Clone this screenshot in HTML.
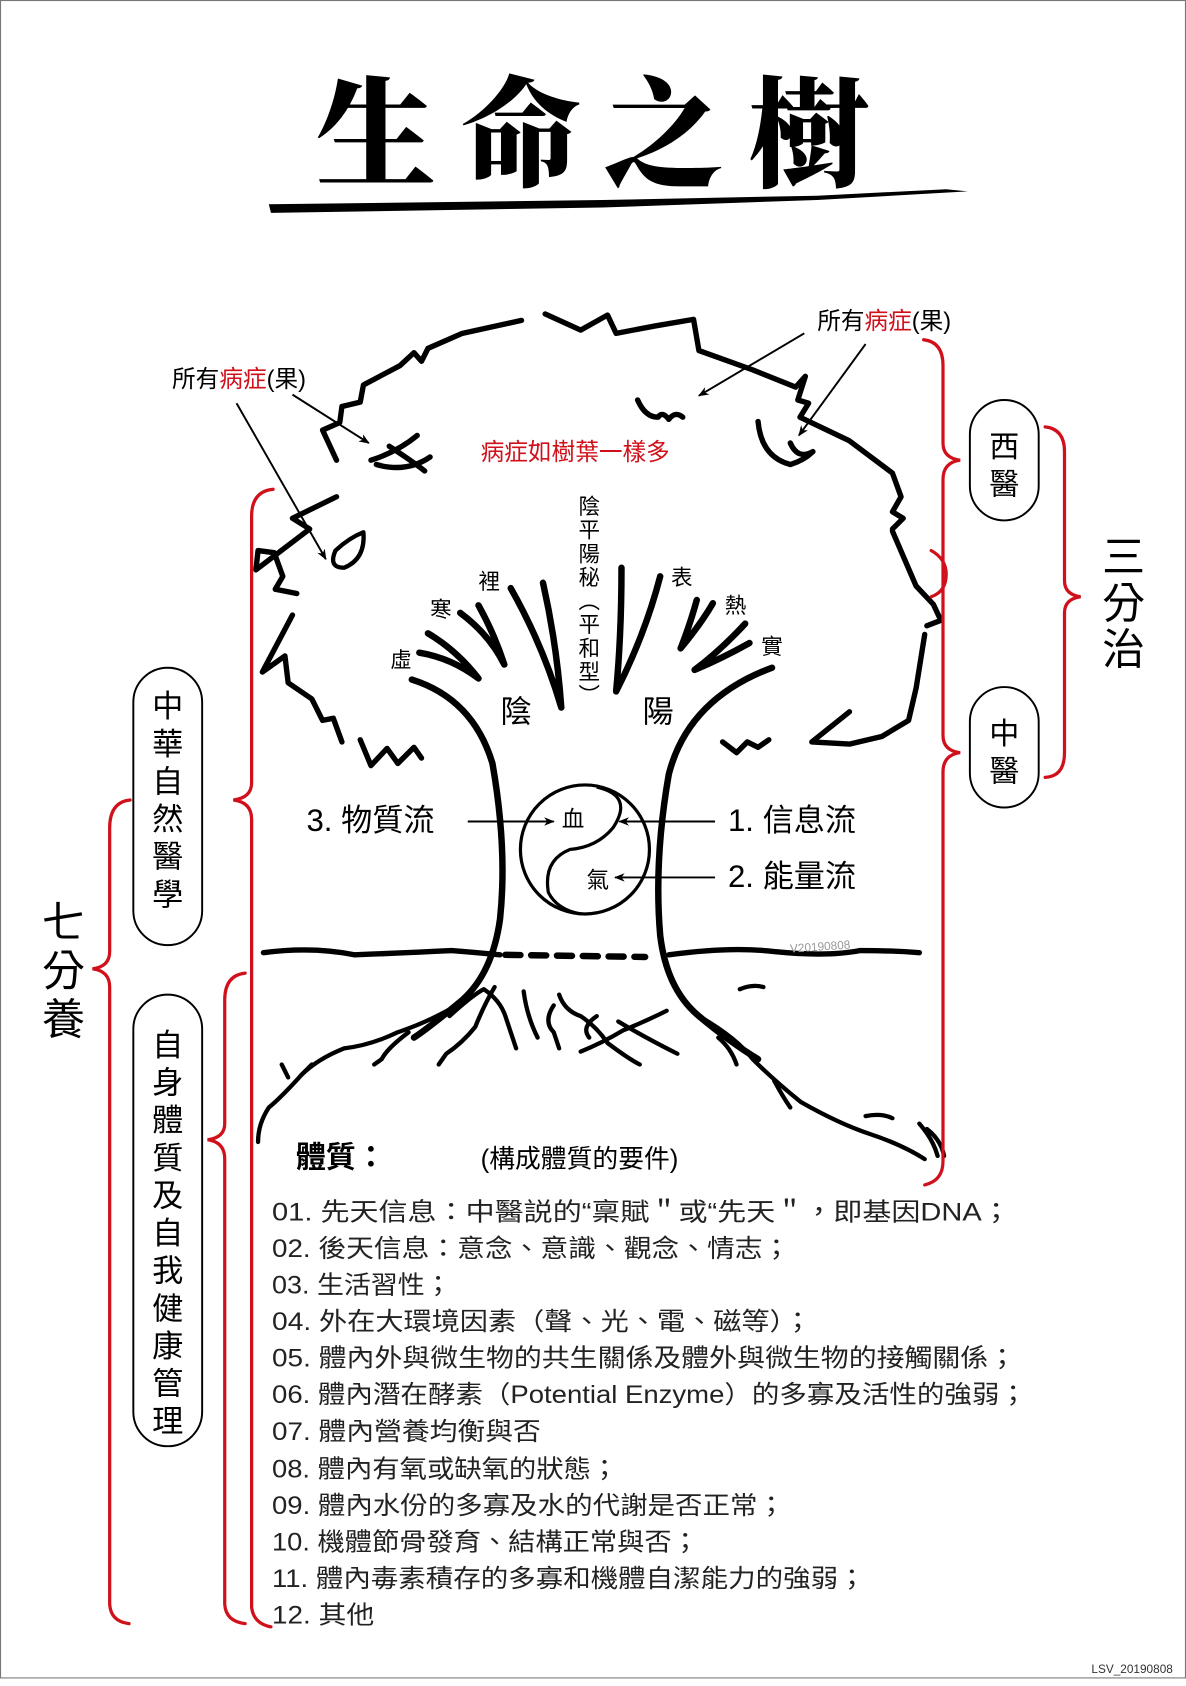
<!DOCTYPE html>
<html><head><meta charset="utf-8"><style>
html,body{margin:0;padding:0;background:#fff}
svg{display:block}
text{font-family:"Liberation Sans","Noto Sans CJK TC",sans-serif}
</style></head><body>
<svg width="1186" height="1686" viewBox="0 0 1103 1568" xmlns="http://www.w3.org/2000/svg">
<defs>
<marker id="ar" markerWidth="10" markerHeight="8" refX="9" refY="4" orient="auto" markerUnits="userSpaceOnUse"><path d="M0,0 L10,4 L0,8 L3,4 Z" fill="#000"/></marker>
</defs>
<rect x="0.5" y="0.5" width="1102" height="1560" fill="#fff" stroke="#777" stroke-width="1"/>

<!-- Title -->
<g font-weight="900" font-size="112" fill="#000">
<text x="350" y="165" text-anchor="middle" style="font-family:'Noto Serif CJK TC','Noto Serif CJK SC',serif">生</text>
<text x="485" y="165" text-anchor="middle" style="font-family:'Noto Serif CJK TC','Noto Serif CJK SC',serif">命</text>
<text x="617" y="165" text-anchor="middle" style="font-family:'Noto Serif CJK TC','Noto Serif CJK SC',serif">之</text>
<text x="752" y="165" text-anchor="middle" style="font-family:'Noto Serif CJK TC','Noto Serif CJK SC',serif">樹</text>
</g>
<path d="M250,190 L560,186 L760,182 L880,176 L900,178 L760,186 L560,193 L252,198 Z" fill="#000"/>

<!-- Canopy -->
<g fill="none" stroke="#000" stroke-width="5" stroke-linecap="round" stroke-linejoin="round">
<path d="M313,428 L300,400 L316,393 L318,378 L335,374 L338,358 L372,340 L385,328 L392,336 L398,324 L430,310 L485,298"/>
<path d="M507,292 L540,307 L565,293 L573,310 L610,303 L645,297 L650,326 L700,344 L740,360 L749,350 L742,372 L752,375 L744,388 L790,410 L830,440 L838,462 L830,476 L840,482 L830,492"/>
<path d="M830,494 L852,545 L868,562 L875,577 L862,582"/>
<path d="M860,590 L852,640 L845,670 L820,685 L790,692 L755,690 L790,662"/>
<path d="M672,690 L685,700 L695,690 L705,695 L715,688"/>
<path d="M313,462 L272,482 L288,492 L238,530 L240,512 L255,514 L263,536 L256,548 L276,552"/>
<path d="M272,572 L244,625 L265,610 L268,635 L290,650 L300,670 L310,668 L318,690"/>
<path d="M335,688 L345,712 L360,696 L370,710 L385,695 L392,705"/>
<!-- leaves -->
<path d="M345,428 Q370,420 388,405 M362,415 Q385,430 395,438"/>
<path d="M350,432 Q378,440 400,425"/>
<path d="M593,372 Q600,388 612,388 Q616,382 622,390 Q628,382 635,388"/>
<path d="M705,392 Q708,425 735,432 Q748,428 756,420 M735,412 Q742,428 756,420"/>
<path d="M320,528 Q305,528 312,512 Q325,500 338,495 Q340,520 320,528 Z" stroke-width="4"/>
</g>
<!-- fan strokes -->
<g fill="none" stroke="#000" stroke-width="6" stroke-linecap="round" stroke-linejoin="round">
<path d="M398,589 Q425,605 445,631 Q420,612 390,607"/>
<path d="M428,570 Q455,590 469,618 Q460,590 445,563"/>
<path d="M475,547 Q505,600 522,658 Q518,600 505,542"/>
<path d="M578,528 Q578,590 573,643 Q600,590 614,536"/>
<path d="M648,558 Q642,580 633,603 Q652,580 663,561"/>
<path d="M693,580 Q670,605 646,623 Q672,612 697,598"/>
<!-- trunk -->
<path d="M383,632 Q440,650 458,710 Q472,790 465,855 Q458,905 430,930 Q400,955 385,965"/>
<path d="M718,621 Q640,650 622,720 Q608,800 614,870 Q620,920 650,945 Q680,970 705,985"/>
</g>
<!-- Ground line -->
<g fill="none" stroke="#000" stroke-width="5" stroke-linecap="round">
<path d="M245,886 Q290,880 330,888 Q380,886 420,884 Q445,886 465,888"/>
<path d="M470,888 L600,890" stroke-dasharray="14,10" stroke-width="6"/>
<path d="M622,888 Q680,880 720,885 Q770,890 800,884 Q830,884 855,886"/>
</g>
<!-- Roots -->
<g fill="none" stroke="#000" stroke-width="4" stroke-linecap="round" stroke-linejoin="round">
<path d="M430,932 Q400,950 370,960 Q345,972 320,975 Q295,985 280,1000 Q262,1020 250,1030 Q240,1045 240,1062"/>
<path d="M268,1002 L262,990 M280,1000 L290,990"/>
<path d="M380,960 Q360,975 355,985 L348,990"/>
<path d="M418,945 Q440,925 450,920 Q465,930 470,945 Q475,960 480,975"/>
<path d="M460,918 Q450,935 442,955 Q430,970 415,980 L408,990"/>
<path d="M487,922 Q490,945 500,965"/>
<path d="M520,925 Q525,940 540,945 Q555,955 565,970 Q585,985 595,990"/>
<path d="M515,935 Q505,950 515,960 L520,975"/>
<path d="M555,945 Q540,955 548,965"/>
<path d="M575,950 Q600,965 630,980"/>
<path d="M620,940 Q600,950 580,958 Q560,970 540,978"/>
<path d="M650,945 Q685,965 700,985 Q720,1005 745,1025 Q780,1045 810,1055 Q840,1065 860,1078"/>
<path d="M668,965 Q680,975 685,990"/>
<path d="M688,920 Q700,915 710,918"/>
<path d="M720,1005 Q728,1020 735,1030"/>
<path d="M805,1038 Q820,1035 830,1040"/>
<path d="M855,1045 Q868,1060 872,1075 M862,1050 Q875,1060 878,1075"/>
</g>

<!-- Yin-yang -->
<g fill="none" stroke="#000" stroke-width="3">
<ellipse cx="544" cy="790" rx="60" ry="60"/>
<path d="M555,732 Q590,740 570,770 Q555,788 530,790 Q505,800 510,830 Q518,846 540,850"/>
</g>
<g stroke="#000" stroke-width="1.8" marker-end="url(#ar)">
<line x1="435" y1="764" x2="515" y2="764"/>
<line x1="665" y1="764" x2="576" y2="764"/>
<line x1="665" y1="816" x2="572" y2="816"/>
<line x1="272" y1="367" x2="343" y2="412"/>
<line x1="220" y1="375" x2="303" y2="520"/>
<line x1="748" y1="310" x2="650" y2="368"/>
<line x1="805" y1="320" x2="743" y2="405"/>
</g>
<g font-size="21" fill="#000">
<text x="533" y="769" text-anchor="middle">血</text>
<text x="556" y="826" text-anchor="middle">氣</text>
</g>
<g font-size="29" fill="#000">
<text x="285" y="773">3. 物質流</text>
<text x="677" y="773">1. 信息流</text>
<text x="677" y="825">2. 能量流</text>
<text x="480" y="672" text-anchor="middle">陰</text>
<text x="612" y="672" text-anchor="middle">陽</text>
</g>
<text x="735" y="886" font-size="11" fill="#999" transform="rotate(-4 735 886)">V20190808</text>

<!-- labels in canopy -->
<g font-size="22" fill="#000">
<text x="160" y="360">所有<tspan fill="#d0101a">病症</tspan>(果)</text>
<text x="760" y="306">所有<tspan fill="#d0101a">病症</tspan>(果)</text>
</g>
<text x="447" y="428" font-size="22" fill="#d0101a">病症如樹葉一樣多</text>
<g font-size="20" fill="#000" text-anchor="middle">
<text x="548" y="478">陰</text><text x="548" y="500">平</text><text x="548" y="522">陽</text><text x="548" y="544">秘</text>
<text x="548" y="566">︵</text><text x="548" y="588">平</text><text x="548" y="610">和</text><text x="548" y="632">型</text><text x="548" y="654">︶</text>
<text x="455" y="548">裡</text><text x="410" y="574">寒</text><text x="373" y="621">虛</text>
<text x="634" y="544">表</text><text x="684" y="570">熱</text><text x="718" y="608">實</text>
</g>

<!-- Red brackets -->
<g fill="none" stroke="#d0101a" stroke-width="3" stroke-linecap="round">
<path d="M859,316 Q877,318 877,340 L877,412 Q877,426 893,428 Q877,430 877,446 L877,684 Q877,698 893,700 Q877,702 877,718 L877,1080 Q877,1098 860,1102"/>
<path d="M866,512 Q880,520 880,534 Q880,550 866,555"/>
<path d="M972,397 Q990,399 990,420 L990,540 Q990,553 1005,555 Q990,557 990,570 L990,700 Q990,722 972,723"/>
<path d="M254,455 Q234,457 234,480 L234,728 Q234,742 217,744 Q234,746 234,762 L234,1495 Q236,1510 252,1513"/>
<path d="M121,744 Q102,746 102,770 L102,885 Q102,899 86,901 Q102,903 102,918 L102,1492 Q103,1508 120,1510"/>
<path d="M228,905 Q209,907 209,930 L209,1045 Q209,1058 193,1060 Q209,1062 209,1078 L209,1492 Q210,1508 228,1510"/>
</g>

<!-- Ovals -->
<g fill="#fff" stroke="#000" stroke-width="1.8">
<rect x="902" y="372" width="64" height="112" rx="32"/>
<rect x="902" y="639" width="64" height="112" rx="32"/>
<rect x="124" y="621" width="64" height="258" rx="32"/>
<rect x="124" y="925" width="64" height="420" rx="32"/>
</g>
<g font-size="28" fill="#000" text-anchor="middle">
<text x="934" y="425">西</text><text x="934" y="460">醫</text>
<text x="934" y="692">中</text><text x="934" y="727">醫</text>
</g>
<g font-size="29" fill="#000" text-anchor="middle">
<text x="156" y="667">中</text><text x="156" y="702">華</text><text x="156" y="737">自</text><text x="156" y="772">然</text><text x="156" y="807">醫</text><text x="156" y="842">學</text>
<text x="156" y="982">自</text><text x="156" y="1017">身</text><text x="156" y="1052">體</text><text x="156" y="1087">質</text><text x="156" y="1122">及</text><text x="156" y="1157">自</text><text x="156" y="1192">我</text><text x="156" y="1227">健</text><text x="156" y="1262">康</text><text x="156" y="1297">管</text><text x="156" y="1332">理</text>
</g>
<g font-size="40" fill="#000" text-anchor="middle">
<text x="1045" y="532">三</text><text x="1045" y="575">分</text><text x="1045" y="618">治</text>
<text x="59" y="872">七</text><text x="59" y="917">分</text><text x="59" y="962">養</text>
</g>

<!-- Text block -->
<text x="275" y="1086" font-size="28" font-weight="bold" fill="#000">體質：</text>
<text x="447" y="1086" font-size="24" fill="#000">(構成體質的要件)</text>
<g font-size="23" fill="#222">
<text x="253" y="1135" textLength="687" lengthAdjust="spacingAndGlyphs">01. 先天信息：中醫説的“稟賦＂或“先天＂，即基因DNA；</text>
<text x="253" y="1169" textLength="482" lengthAdjust="spacingAndGlyphs">02. 後天信息：意念、意識、觀念、情志；</text>
<text x="253" y="1203" textLength="167" lengthAdjust="spacingAndGlyphs">03. 生活習性；</text>
<text x="253" y="1237" textLength="502" lengthAdjust="spacingAndGlyphs">04. 外在大環境因素（聲、光、電、磁等）；</text>
<text x="253" y="1271" textLength="692" lengthAdjust="spacingAndGlyphs">05. 體內外與微生物的共生關係及體外與微生物的接觸關係；</text>
<text x="253" y="1305" textLength="702" lengthAdjust="spacingAndGlyphs">06. 體內潛在酵素（Potential Enzyme）的多寡及活性的強弱；</text>
<text x="253" y="1339" textLength="250" lengthAdjust="spacingAndGlyphs">07. 體內營養均衡與否</text>
<text x="253" y="1374" textLength="322" lengthAdjust="spacingAndGlyphs">08. 體內有氧或缺氧的狀態；</text>
<text x="253" y="1408" textLength="477" lengthAdjust="spacingAndGlyphs">09. 體內水份的多寡及水的代謝是否正常；</text>
<text x="253" y="1442" textLength="397" lengthAdjust="spacingAndGlyphs">10. 機體節骨發育、結構正常與否；</text>
<text x="253" y="1476" textLength="552" lengthAdjust="spacingAndGlyphs">11. 體內毒素積存的多寡和機體自潔能力的強弱；</text>
<text x="253" y="1510" textLength="95" lengthAdjust="spacingAndGlyphs">12. 其他</text>
</g>
<text x="1015" y="1556" font-size="11" fill="#333">LSV_20190808</text>
</svg>
</body></html>
